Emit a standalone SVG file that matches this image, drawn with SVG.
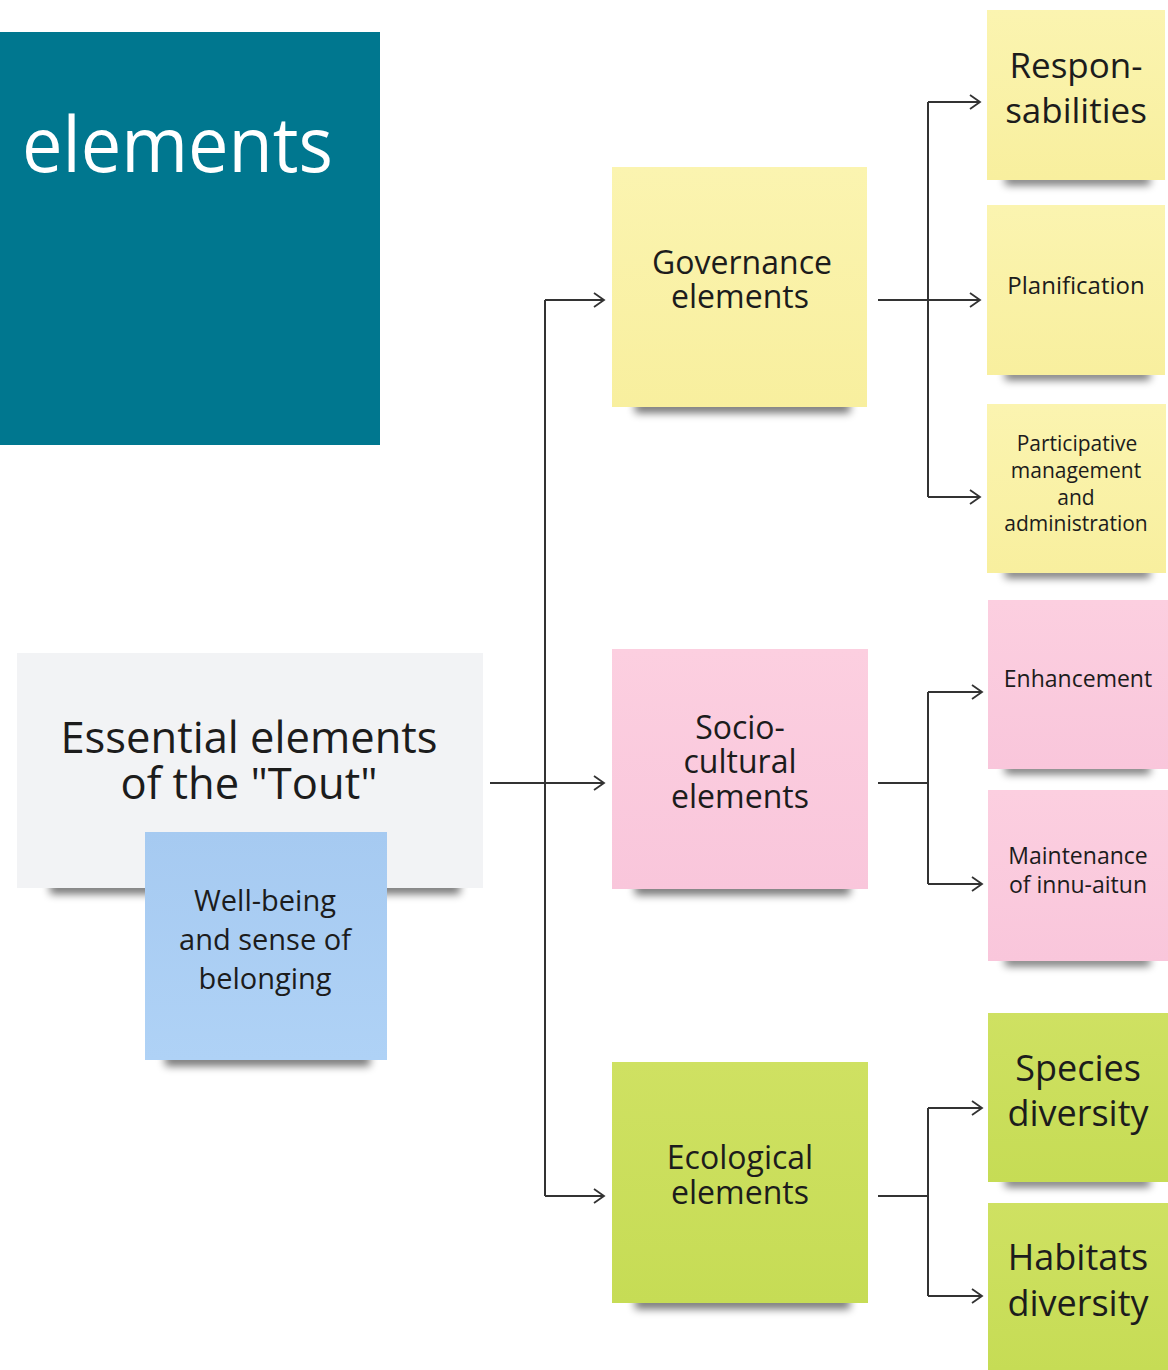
<svg xmlns="http://www.w3.org/2000/svg" width="1168" height="1370" viewBox="0 0 1168 1370">
<defs>
<filter id="sh" x="-20%" y="-200%" width="140%" height="500%"><feGaussianBlur stdDeviation="4.5"/></filter>
<linearGradient id="gy" x1="0" y1="0" x2="0" y2="1"><stop offset="0" stop-color="#fbf4b0"/><stop offset="1" stop-color="#f8ef9e"/></linearGradient>
<linearGradient id="gp" x1="0" y1="0" x2="0" y2="1"><stop offset="0" stop-color="#fccfe0"/><stop offset="1" stop-color="#f9c6db"/></linearGradient>
<linearGradient id="gg" x1="0" y1="0" x2="0" y2="1"><stop offset="0" stop-color="#cfe162"/><stop offset="1" stop-color="#c6dc55"/></linearGradient>
<linearGradient id="gb" x1="0" y1="0" x2="0" y2="1"><stop offset="0" stop-color="#a6caf1"/><stop offset="1" stop-color="#afd2f6"/></linearGradient>
<marker id="ar" markerWidth="14" markerHeight="18" refX="12" refY="9" orient="auto" markerUnits="userSpaceOnUse"><path d="M2,2 L12,9 L2,16" fill="none" stroke="#333" stroke-width="1.8"/></marker>
<style>
.t{font-family:"Open Sans","Liberation Sans",sans-serif;fill:#1c1c1c;text-anchor:middle}
.sh{fill:#000;opacity:.55;filter:url(#sh)}
.c{fill:none;stroke:#333;stroke-width:2}
.a{marker-end:url(#ar)}
</style>
</defs>
<rect width="1168" height="1370" fill="#ffffff"/>
<g id="title">
<rect x="0" y="32" width="380" height="413" fill="#00778f"/>
<text x="22" y="172" font-family="'Open Sans','Liberation Sans',sans-serif" font-size="76" fill="#ffffff" textLength="311" lengthAdjust="spacingAndGlyphs">elements</text>
</g>
<g id="connectors">
<path class="c" d="M490,783 H545"/>
<path class="c a" d="M545,783 H604"/>
<path class="c" d="M545,300 V1196"/>
<path class="c a" d="M545,300 H604"/>
<path class="c a" d="M545,1196 H604"/>
<path class="c a" d="M878,300 H980"/>
<path class="c" d="M928,102 V497"/>
<path class="c a" d="M928,102 H980"/>
<path class="c a" d="M928,497 H980"/>
<path class="c" d="M878,783 H928"/>
<path class="c" d="M928,692 V884"/>
<path class="c a" d="M928,692 H982"/>
<path class="c a" d="M928,884 H982"/>
<path class="c" d="M878,1196 H928"/>
<path class="c" d="M928,1108 V1296"/>
<path class="c a" d="M928,1108 H982"/>
<path class="c a" d="M928,1296 H982"/>
</g>
<g id="essential">
<rect class="sh" x="50" y="882" width="410" height="12"/>
<rect x="17" y="653" width="466" height="235" fill="#f2f3f5"/>
<text class="t" font-size="43.5"><tspan x="249" y="753">Essential elements</tspan><tspan x="249" y="799">of the "Tout"</tspan></text>
</g>
<g id="wellbeing">
<rect class="sh" x="165" y="1054" width="205" height="12"/>
<rect x="145" y="832" width="242" height="228" fill="url(#gb)"/>
<text class="t" font-size="29" fill="#1d2a3a"><tspan x="265" y="911">Well-being</tspan><tspan x="265" y="950">and sense of</tspan><tspan x="265" y="989">belonging</tspan></text>
</g>
<g id="governance">
<rect class="sh" x="635" y="401" width="215" height="12"/>
<rect x="612" y="167" width="255" height="240" fill="url(#gy)"/>
<text class="t" font-size="32"><tspan x="742" y="274">Governance</tspan><tspan x="740" y="308">elements</tspan></text>
</g>
<g id="sociocultural">
<rect class="sh" x="635" y="883" width="215" height="12"/>
<rect x="612" y="649" width="256" height="240" fill="url(#gp)"/>
<text class="t" font-size="32"><tspan x="740" y="739">Socio-</tspan><tspan x="740" y="773">cultural</tspan><tspan x="740" y="808">elements</tspan></text>
</g>
<g id="ecological">
<rect class="sh" x="635" y="1297" width="215" height="12"/>
<rect x="612" y="1062" width="256" height="241" fill="url(#gg)"/>
<text class="t" font-size="32"><tspan x="740" y="1169">Ecological</tspan><tspan x="740" y="1204">elements</tspan></text>
</g>
<g id="responsabilities">
<rect class="sh" x="1005" y="175" width="145" height="10"/>
<rect x="987" y="10" width="178" height="170" fill="url(#gy)"/>
<text class="t" font-size="35"><tspan x="1076" y="78">Respon-</tspan><tspan x="1076" y="123">sabilities</tspan></text>
</g>
<g id="planification">
<rect class="sh" x="1005" y="370" width="145" height="10"/>
<rect x="987" y="205" width="178" height="170" fill="url(#gy)"/>
<text class="t" font-size="24" x="1076" y="294">Planification</text>
</g>
<g id="participative">
<rect class="sh" x="1005" y="568" width="145" height="10"/>
<rect x="987" y="404" width="179" height="169" fill="url(#gy)"/>
<text class="t" font-size="21"><tspan x="1077" y="451">Participative</tspan><tspan x="1076" y="478">management</tspan><tspan x="1076" y="505">and</tspan><tspan x="1076" y="531">administration</tspan></text>
</g>
<g id="enhancement">
<rect class="sh" x="1005" y="764" width="145" height="10"/>
<rect x="988" y="600" width="180" height="169" fill="url(#gp)"/>
<text class="t" font-size="23" x="1078" y="687">Enhancement</text>
</g>
<g id="maintenance">
<rect class="sh" x="1005" y="956" width="145" height="10"/>
<rect x="988" y="790" width="180" height="171" fill="url(#gp)"/>
<text class="t" font-size="23"><tspan x="1078" y="864">Maintenance</tspan><tspan x="1078" y="893">of innu-aitun</tspan></text>
</g>
<g id="species">
<rect class="sh" x="1005" y="1177" width="145" height="10"/>
<rect x="988" y="1013" width="180" height="169" fill="url(#gg)"/>
<text class="t" font-size="36"><tspan x="1078" y="1081">Species</tspan><tspan x="1078" y="1126">diversity</tspan></text>
</g>
<g id="habitats">
<rect x="988" y="1203" width="180" height="167" fill="url(#gg)"/>
<text class="t" font-size="36"><tspan x="1078" y="1270">Habitats</tspan><tspan x="1078" y="1316">diversity</tspan></text>
</g>
</svg>
